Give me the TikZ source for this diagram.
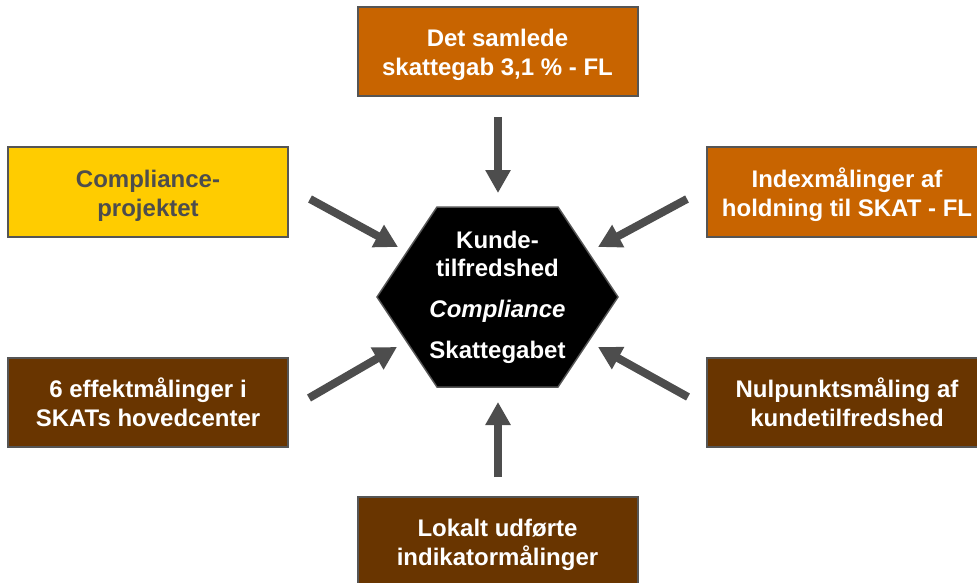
\documentclass[tikz,border=0pt]{standalone}
\usepackage{fontspec}
\setmainfont{Liberation Sans}
\usetikzlibrary{arrows.meta}
\definecolor{borderc}{HTML}{555555}
\definecolor{orangec}{HTML}{C86400}
\definecolor{yellowc}{HTML}{FFCC00}
\definecolor{brownc}{HTML}{693500}
\definecolor{arrowc}{HTML}{4D4D4D}
\definecolor{greytext}{HTML}{4D4D4D}
\tikzset{
  box/.style={draw=borderc, line width=2pt, minimum width=280pt, minimum height=89pt,
    inner sep=0pt, align=center, text=white, text height=51pt, text depth=3pt,
    font=\bfseries\fontsize{24}{29}\selectfont},
  orangebox/.style={box, fill=orangec},
  yellowbox/.style={box, fill=yellowc, text=greytext},
  brownbox/.style={box, fill=brownc},
  hubtext/.style={text=white, font=\bfseries\fontsize{24}{28}\selectfont, anchor=base, inner sep=0pt},
  bigarrow/.style={draw=arrowc, line width=8pt, -{Triangle[width=24pt,length=23pt]}}
}
\begin{document}
\begin{tikzpicture}[x=1pt,y=-1pt]
\useasboundingbox (0,0) rectangle (977,583);
\begin{scope}
\clip (0,0) rectangle (977,583);
% boxes
\node[orangebox] (top) at (497.5,52) {Det samlede\\skattegab 3,1 \% - FL};
\node[yellowbox] (lt) at (148,192) {Compliance-\\projektet};
\node[orangebox] (rt) at (847,192) {Indexmålinger af\\holdning til SKAT - FL};
\node[brownbox] (lb) at (148,402) {6 effektmålinger i\\SKATs hovedcenter};
\node[brownbox] (rb) at (847,402) {Nulpunktsmåling af\\kundetilfredshed};
\node[brownbox] (bot) at (497.5,541.5) {Lokalt udførte\\indikatormålinger};
% hexagon
\draw[draw=borderc, line width=1.5pt, fill=black]
  (377,297) -- (437,207) -- (558,207) -- (618,297) -- (558,387) -- (437,387) -- cycle;
\node[hubtext] (h1) at (497.5,248) {Kunde-};
\node[hubtext] (h2) at (497.5,276) {tilfredshed};
\node[hubtext] (h3) at (497.5,317) {\textit{Compliance}};
\node[hubtext] (h4) at (497.5,358) {Skattegabet};
% arrow endpoints
\coordinate (tA) at (498,117);  \coordinate (tB) at (498,193);
\coordinate (bA) at (498,477);  \coordinate (bB) at (498,402);
\coordinate (ltA) at (310,199); \coordinate (ltB) at (398,247);
\coordinate (rtA) at (687,199); \coordinate (rtB) at (598,247);
\coordinate (lbA) at (309,398); \coordinate (lbB) at (397,347);
\coordinate (rbA) at (688,397); \coordinate (rbB) at (598,347);
\draw[bigarrow] (tA) -- (tB);
\draw[bigarrow] (bA) -- (bB);
\draw[bigarrow] (ltA) -- (ltB);
\draw[bigarrow] (rtA) -- (rtB);
\draw[bigarrow] (lbA) -- (lbB);
\draw[bigarrow] (rbA) -- (rbB);
\end{scope}
\end{tikzpicture}
\end{document}
